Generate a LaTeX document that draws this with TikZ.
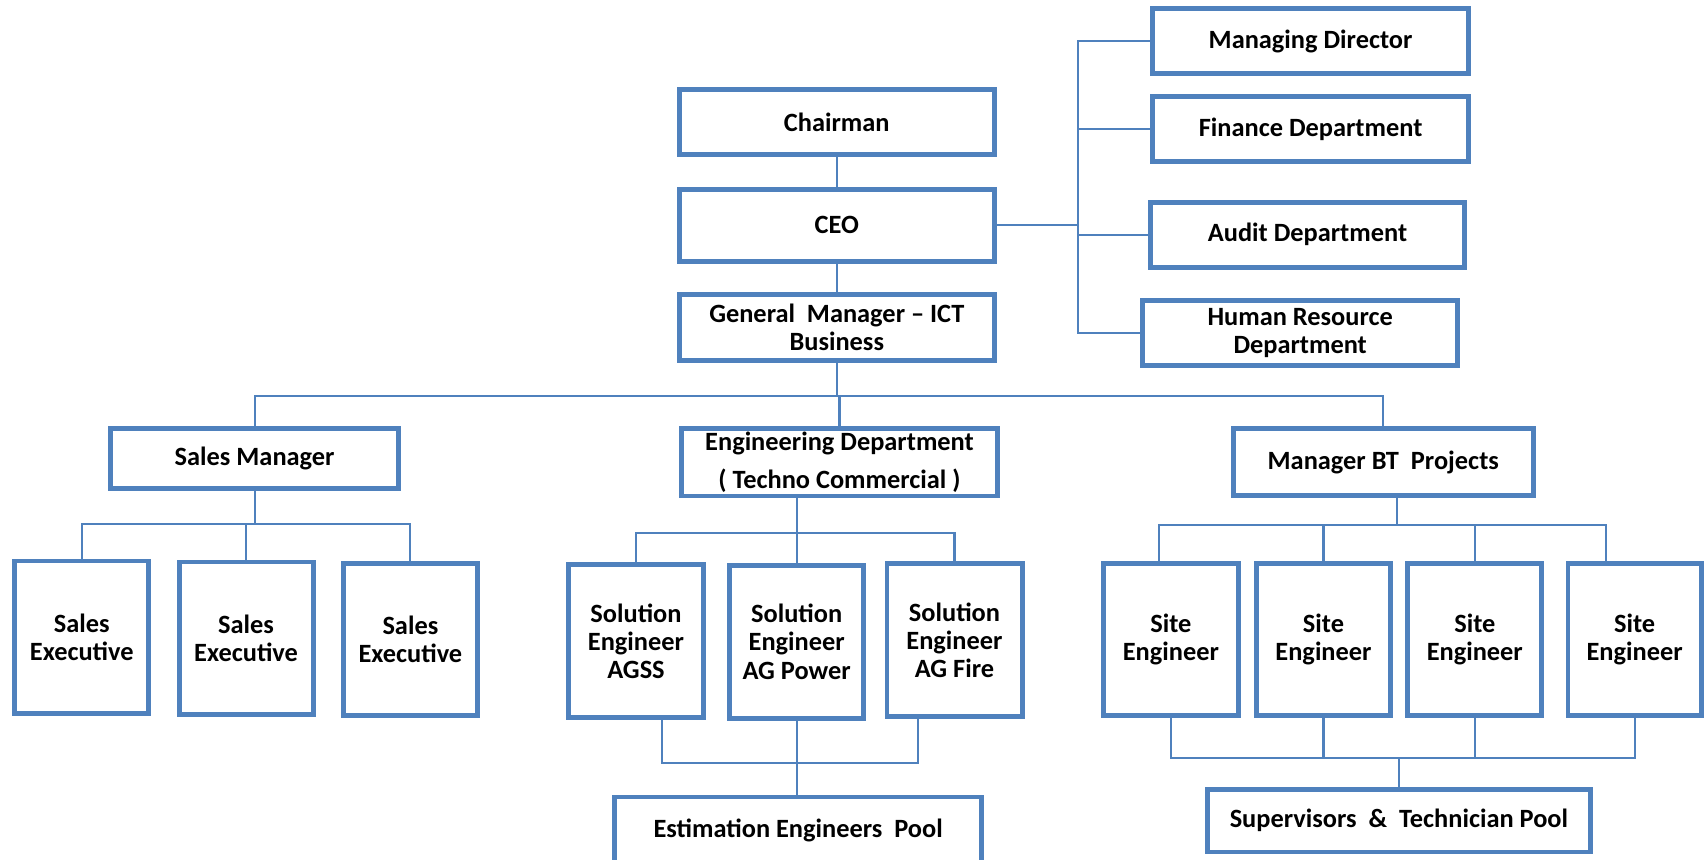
\documentclass[tikz,border=0pt]{standalone}
\usepackage{fontspec}
\setmainfont{Carlito}
\definecolor{boxblue}{HTML}{4F81BD}
\begin{document}
\begin{tikzpicture}[x=0.01cm, y=-0.01cm,
	box/.style={draw=boxblue, line width=1.4pt, fill=white, align=center, inner sep=1pt, font=\bfseries\fontsize{7.5}{8}\selectfont},
	link/.style={draw=boxblue, line width=0.6pt}]
	\useasboundingbox (0, 0) rectangle (1708, 859);
	\clip (0, 0) rectangle (1708, 859);
	\node[box, minimum width=3.153cm, minimum height=0.652cm] at (836.8, 122.1) (chair) {Chairman};
	\node[box, minimum width=3.153cm, minimum height=0.718cm] at (836.8, 225.4) (ceo) {CEO};
	\node[box, minimum width=3.153cm, minimum height=0.66cm] at (836.8, 327.5) (gm) {General~ Manager -- ICT\\Business};
	\node[box, minimum width=3.156cm, minimum height=0.65cm] at (1310.6, 41.3) (md) {Managing Director};
	\node[box, minimum width=3.156cm, minimum height=0.65cm] at (1310.6, 129) (fin) {Finance Department};
	\node[box, minimum width=3.147cm, minimum height=0.65cm] at (1307.5, 234.6) (audit) {Audit Department};
	\node[box, minimum width=3.145cm, minimum height=0.65cm] at (1300.2, 333) (hr) {Human Resource\\Department};
	\node[box, minimum width=2.88cm, minimum height=0.594cm] at (254.6, 458.5) (sales) {Sales Manager};
	\node[box, minimum width=3.155cm, minimum height=0.667cm] at (839.5, 462.2) (eng) {Engineering Department\\[2.8pt]( Techno Commercial )};
	\node[box, minimum width=2.993cm, minimum height=0.667cm] at (1383.3, 462.2) (bt) {Manager BT~ Projects};
	\node[box, minimum width=1.34cm, minimum height=1.52cm] at (81.8, 637) (se1) {Sales\\Executive};
	\node[box, minimum width=1.34cm, minimum height=1.52cm] at (246.1, 638) (se2) {Sales\\Executive};
	\node[box, minimum width=1.34cm, minimum height=1.52cm] at (410.4, 639.7) (se3) {Sales\\Executive};
	\node[box, minimum width=1.344cm, minimum height=1.525cm] at (636, 641) (sol1) {Solution\\Engineer\\AGSS};
	\node[box, minimum width=1.343cm, minimum height=1.525cm] at (796.7, 641.8) (sol2) {Solution\\Engineer\\AG Power};
	\node[box, minimum width=1.35cm, minimum height=1.525cm] at (954.5, 640) (sol3) {Solution\\Engineer\\AG Fire};
	\node[box, minimum width=3.67cm, minimum height=0.66cm] at (798.2, 830) (est) {Estimation Engineers~ Pool};
	\node[box, minimum width=1.346cm, minimum height=1.517cm] at (1170.9, 639.7) (site1) {Site\\Engineer};
	\node[box, minimum width=1.338cm, minimum height=1.517cm] at (1323.5, 639.7) (site2) {Site\\Engineer};
	\node[box, minimum width=1.34cm, minimum height=1.517cm] at (1474.8, 639.7) (site3) {Site\\Engineer};
	\node[box, minimum width=1.331cm, minimum height=1.517cm] at (1634.6, 639.7) (site4) {Site\\Engineer};
	\node[box, minimum width=3.826cm, minimum height=0.625cm] at (1398.9, 820.7) (sup) {Supervisors~ \&~ Technician Pool};
	\coordinate (rbus) at (1078, 0);
	\coordinate (tbus) at (0, 395.7);
	\coordinate (sbus) at (0, 524);
	\coordinate (ebus) at (0, 533);
	\coordinate (pbus) at (0, 525);
	\coordinate (sobus) at (0, 763.3);
	\coordinate (stbus) at (0, 758.3);
	\draw[link] (chair.south) -- (ceo.north);
	\draw[link] (ceo.south) -- (gm.north);
	\draw[link] (ceo.east) -- (ceo.east -| rbus);
	\draw[link] (md.west) -| (rbus |- hr.west) -- (hr.west);
	\draw[link] (fin.west) -- (fin.west -| rbus);
	\draw[link] (audit.west) -- (audit.west -| rbus);
	\draw[link] (gm.south) -- (gm.south |- tbus);
	\draw[link] (sales.north) |- (eng.north |- tbus) -| (bt.north);
	\draw[link] (eng.north) -- (eng.north |- tbus);
	\draw[link] (sales.south) -- (sales.south |- sbus);
	\draw[link] (se1.north) |- (se2.north |- sbus) -| (se3.north);
	\draw[link] (se2.north) -- (se2.north |- sbus);
	\draw[link] (eng.south -| sol2.north) -- (sol2.north);
	\draw[link] (sol1.north) |- (sol2.north |- ebus) -| (sol3.north);
	\draw[link] ([xshift=0.263cm]sol1.south) |- (sol2.south |- sobus) -| ([xshift=-0.365cm]sol3.south);
	\draw[link] (sol2.south) -- (sol2.south |- est.north);
	\draw[link] ([xshift=0.14cm]bt.south) |- (site2.north |- pbus);
	\draw[link] ([xshift=-0.12cm]site1.north) |- (site2.north |- pbus) -| ([xshift=-0.29cm]site4.north);
	\draw[link] (site2.north) -- (site2.north |- pbus);
	\draw[link] (site3.north) -- (site3.north |- pbus);
	\draw[link] (site1.south) |- (site2.south |- stbus) -| (site4.south);
	\draw[link] (site2.south) -- (site2.south |- stbus);
	\draw[link] (site3.south) -- (site3.south |- stbus);
	\draw[link] (sup.north) -- (sup.north |- stbus);
\end{tikzpicture}
\end{document}
